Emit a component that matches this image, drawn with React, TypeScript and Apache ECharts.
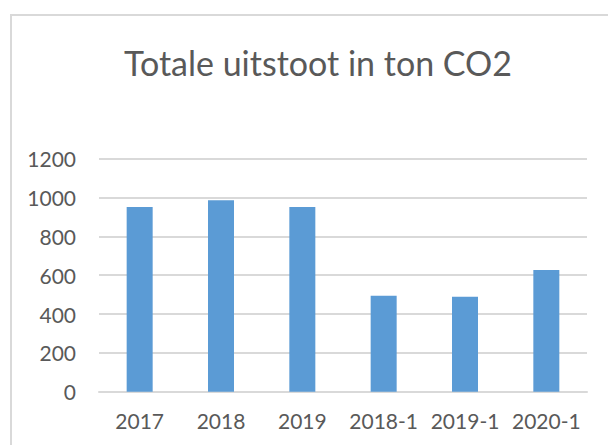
import React, { useEffect, useRef } from "react";
import * as echarts from "echarts";

const titleText = "Totale uitstoot in ton CO2";
const categories = ["2017", "2018", "2019", "2018-1", "2019-1", "2020-1"];
const emissions = [951, 986, 951, 494, 489, 627];
const yMin = 0;
const yMax = 1200;
const yInterval = 200;

export default function App() {
  const ref = useRef<HTMLDivElement>(null);
  useEffect(() => {
    document.body.style.margin = "0";
    const chart = echarts.init(ref.current!, null, { renderer: "svg" });
    chart.setOption({
      animation: false,
      backgroundColor: "#ffffff",
      textStyle: { fontFamily: "Lato" },
      title: {
        text: titleText,
        left: 313,
        top: 40,
        textAlign: "center",
        textStyle: {
          fontFamily: "Lato",
          fontSize: 34,
          fontWeight: "normal",
          color: "#595959",
        },
      },
      graphic: [
        {
          type: "rect",
          shape: { x: 11, y: 15, width: 700, height: 600 },
          style: { fill: "none", stroke: "#d9d9d9", lineWidth: 2 },
          silent: true,
          z: -1,
        },
      ],
      grid: { left: 99, right: 21, top: 158.7, bottom: 53.3, containLabel: false },
      xAxis: {
        type: "category",
        data: categories,
        axisLine: { show: true, lineStyle: { color: "#d9d9d9", width: 2 } },
        axisTick: { show: false },
        axisLabel: {
          color: "#595959",
          fontFamily: "Lato",
          fontSize: 21,
          margin: 18,
          interval: 0,
        },
      },
      yAxis: {
        type: "value",
        min: yMin,
        max: yMax,
        interval: yInterval,
        axisLine: { show: false },
        axisTick: { show: false },
        splitLine: { lineStyle: { color: "#d9d9d9", width: 2 } },
        axisLabel: {
          color: "#595959",
          fontFamily: "Lato",
          fontSize: 21,
          margin: 23,
          formatter: (v: number) => String(v),
        },
      },
      series: [
        {
          type: "bar",
          data: emissions,
          barWidth: 26,
          itemStyle: { color: "#5b9bd5" },
        },
      ],
    });
    return () => chart.dispose();
  }, []);
  return <div ref={ref} style={{ width: 608, height: 445 }} />;
}
